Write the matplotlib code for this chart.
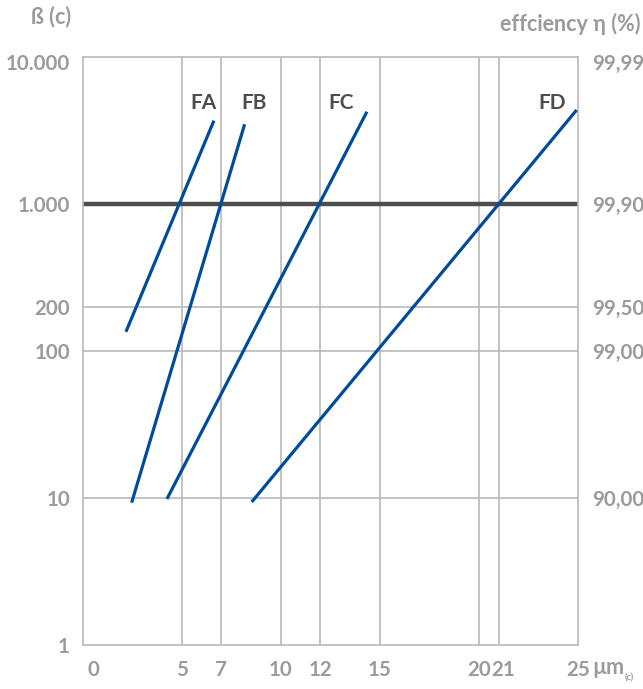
import matplotlib
matplotlib.use("Agg")
import matplotlib.pyplot as plt
import matplotlib.transforms as mtransforms

# Filter retention curves: particle size (µm) vs. beta ratio
filters = ["FA", "FB", "FC", "FD"]
size_start = [2.19, 2.48, 4.26, 8.54]
size_end = [6.63, 8.18, 14.35, 24.93]
beta_start = [135, 9.3, 9.85, 9.4]
beta_end = [3690, 3485, 4246, 4360]

x_ticks = [0, 5, 7, 10, 12, 15, 20, 21, 25]
x_tick_labels = ["0", "5", "7", "10", "12", "15", "20", "21", "25"]
beta_ticks = [1, 10, 100, 200, 1000, 10000]
beta_tick_labels = ["1", "10", "100", "200", "1.000", "10.000"]
eff_ticks = [10, 100, 200, 1000, 10000]
eff_tick_labels = ["90,00", "99,00", "99,50", "99,90", "99,99"]
beta_reference = 1000

plt.rcParams["font.family"] = ["Lato", "DejaVu Sans"]

BLUE = "#004c99"
DARK = "#4d4d4d"
GRID = "#b9b9b9"
LABEL = "#9b9b9b"
FS = 14.8

fig = plt.figure(figsize=(6.43, 6.89), dpi=100)
ax = fig.add_axes([82.5 / 643, 44 / 689, (578 - 82.5) / 643, (645 - 57) / 689])
ax.set_yscale("log")
ax.set_xlim(0, 25)
ax.set_ylim(1, 10000)

for x in x_ticks[1:-1]:
    ax.axvline(x, color=GRID, lw=1.2, zorder=1)
for y in [10, 100, 200]:
    ax.axhline(y, color=GRID, lw=1.2, zorder=1)
ax.axhline(beta_reference, color=DARK, lw=3.2, zorder=2)

for x0, x1, b0, b1 in zip(size_start, size_end, beta_start, beta_end):
    ax.plot([x0, x1], [b0, b1], color=BLUE, lw=2.3, solid_capstyle="butt", zorder=3)

label_pos = {"FA": (6.13, 4860), "FB": (8.65, 4860), "FC": (13.04, 4860), "FD": (23.69, 4860)}
for name in filters:
    lx, ly = label_pos[name]
    ax.text(lx, ly, name, color=DARK, fontsize=15, fontweight="bold",
            ha="center", va="center", zorder=4)

for s in ax.spines.values():
    s.set_color(GRID)
    s.set_linewidth(1.2)

ax.minorticks_off()
ax.set_yticks(beta_ticks)
ax.set_yticklabels(beta_tick_labels)
ax.set_xticks(x_ticks)
ax.set_xticklabels(x_tick_labels)
ax.tick_params(axis="both", length=0, colors=LABEL, labelsize=FS)
ax.tick_params(axis="y", pad=9)
ax.tick_params(axis="x", pad=11)
for lbl in ax.get_xticklabels() + ax.get_yticklabels():
    lbl.set_fontweight("bold")

# nudge a few x labels so that "0" sits inside and "20"/"21" read as a pair
xlabels = ax.get_xticklabels()
for idx, dx in {0: 11, 6: 0, 7: 4}.items():
    xlabels[idx].set_transform(xlabels[idx].get_transform() +
                               mtransforms.ScaledTranslation(dx / 100, 0, fig.dpi_scale_trans))

# top y label sits slightly below the frame
ylabels = ax.get_yticklabels()
ylabels[-1].set_transform(ylabels[-1].get_transform() +
                          mtransforms.ScaledTranslation(0, -5 / 100, fig.dpi_scale_trans))

ax2 = ax.twinx()
ax2.set_yscale("log")
ax2.set_ylim(1, 10000)
ax2.minorticks_off()
ax2.set_yticks(eff_ticks)
ax2.set_yticklabels(eff_tick_labels)
ax2.tick_params(axis="y", length=0, colors=LABEL, labelsize=FS, pad=10)
for lbl in ax2.get_yticklabels():
    lbl.set_fontweight("bold")
r = ax2.get_yticklabels()
r[-1].set_transform(r[-1].get_transform() +
                    mtransforms.ScaledTranslation(0, -5 / 100, fig.dpi_scale_trans))
for s in ax2.spines.values():
    s.set_visible(False)

fig.text(31 / 643, 1 - 17 / 689, "ß (c)", color=LABEL, fontsize=15.5,
         fontweight="bold", ha="left", va="center")
fig.text(640 / 643, 1 - 24 / 689, "effciency η (%)", color=LABEL, fontsize=15.5,
         fontweight="bold", ha="right", va="center")
fig.text(592 / 643, 1 - 668 / 689, "µm", color=LABEL, fontsize=15.5,
         fontweight="bold", ha="left", va="center")
fig.text(625 / 643, 1 - 678 / 689, "(c)", color=LABEL, fontsize=6.5,
         fontweight="bold", ha="left", va="center")

fig.savefig("out.png", dpi=100)
